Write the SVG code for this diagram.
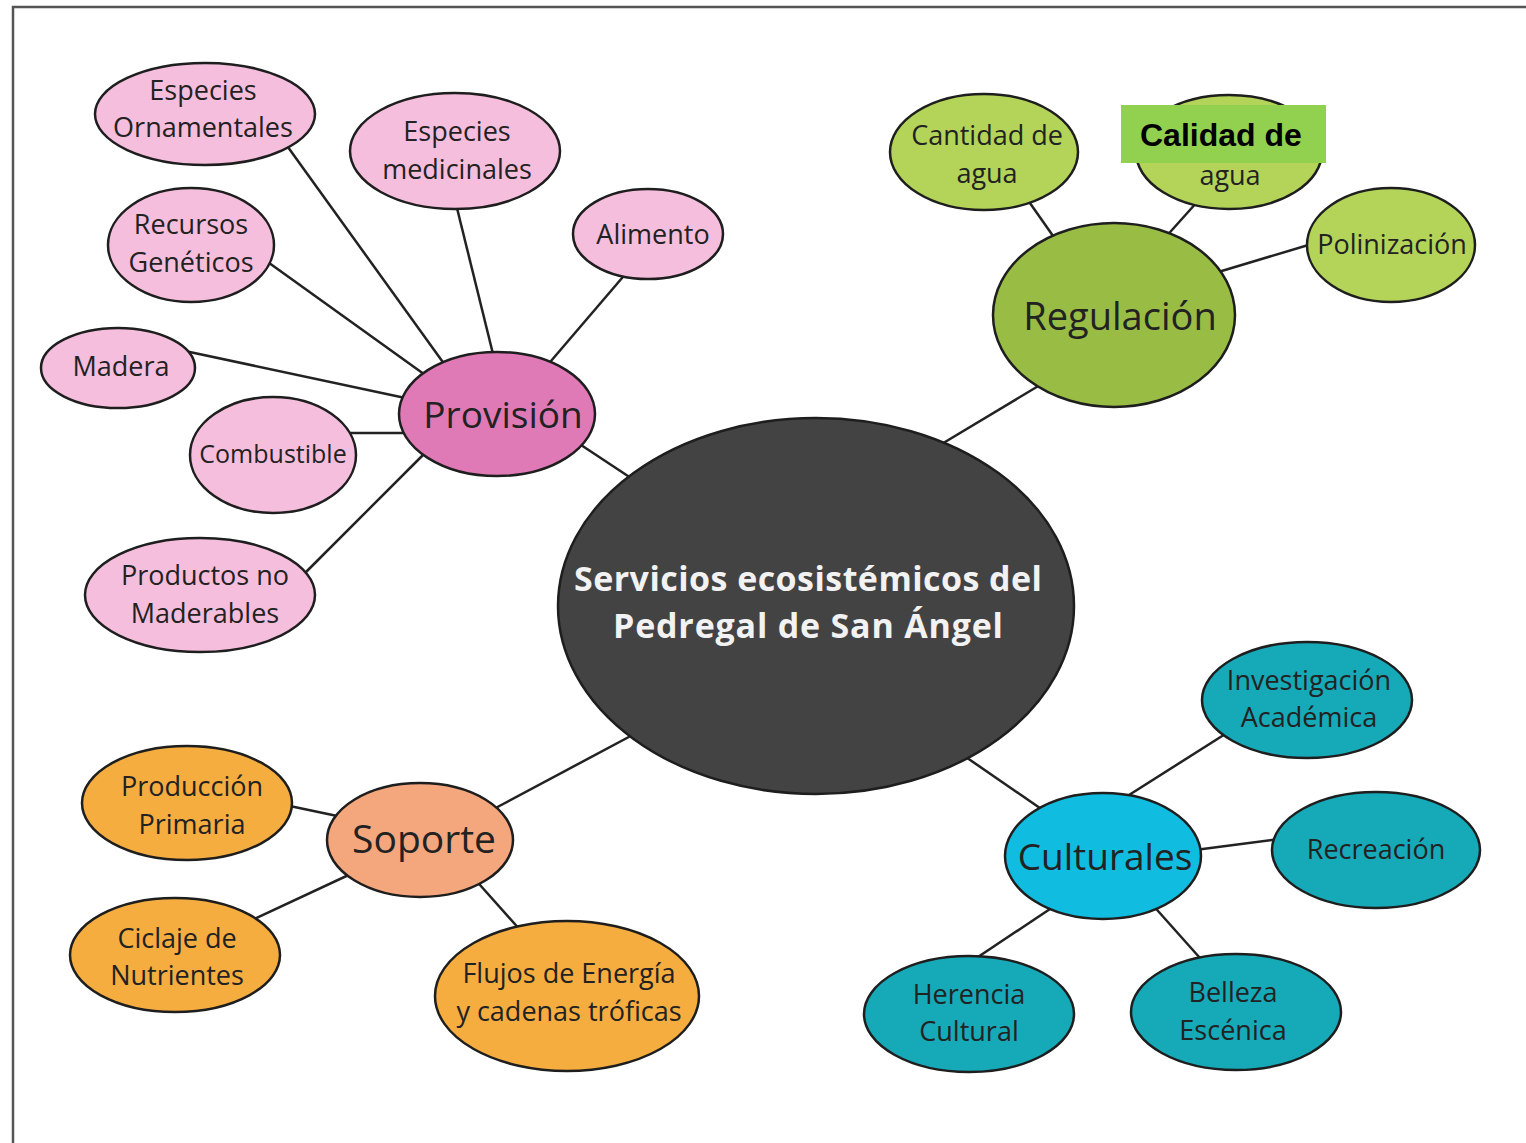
<svg xmlns="http://www.w3.org/2000/svg" width="1526" height="1143" viewBox="0 0 1526 1143">
<style>
.e{stroke:#1e1e1e;stroke-width:2.5}
.t{font-family:"Open Sans","Noto Sans",sans-serif;fill:#222;text-anchor:middle}
.s{font-size:27px}
.b{font-size:37px}
.pk{fill:#f6bedd}.pm{fill:#e07ab7}
.gl{fill:#b3d459}.gm{fill:#99bd44}
.ol{fill:#f5ad40}.om{fill:#f4a67c}
.cl{fill:#16a9b8}.cm{fill:#10bde0}
.c line{stroke:#222;stroke-width:2.5}
</style>
<rect width="1526" height="1143" fill="#fff"/>
<path d="M13 1143 V7 H1526" fill="none" stroke="#555" stroke-width="2.5"/>
<g class="c" id="connectors">
<line x1="575" y1="441" x2="640" y2="484"/>
<line x1="935" y1="448" x2="1045" y2="382"/>
<line x1="490" y1="811" x2="640" y2="731"/>
<line x1="960" y1="753" x2="1050" y2="815"/>
<line x1="285" y1="143" x2="450" y2="372"/>
<line x1="455" y1="200" x2="495" y2="362"/>
<line x1="265" y1="260" x2="428" y2="377"/>
<line x1="628" y1="271" x2="545" y2="368"/>
<line x1="185" y1="351" x2="410" y2="399"/>
<line x1="350" y1="433" x2="410" y2="433"/>
<line x1="300" y1="578" x2="430" y2="448"/>
<line x1="1025" y1="196" x2="1058" y2="243"/>
<line x1="1198" y1="201" x2="1163" y2="240"/>
<line x1="1315" y1="243" x2="1215" y2="273"/>
<line x1="285" y1="805" x2="342" y2="817"/>
<line x1="250" y1="921" x2="355" y2="872"/>
<line x1="472" y1="876" x2="522" y2="932"/>
<line x1="1230" y1="731" x2="1118" y2="802"/>
<line x1="1280" y1="839" x2="1195" y2="850"/>
<line x1="972" y1="961" x2="1056" y2="905"/>
<line x1="1150" y1="902" x2="1208" y2="967"/>
</g>
<g id="central">
<ellipse class="e" cx="816" cy="606" rx="258" ry="188" fill="#434343"/>
<text class="t" x="808" y="591" style="font-size:34px;font-weight:bold;fill:#f2f2f2" textLength="468">Servicios ecosistémicos del</text>
<text class="t" x="808" y="638" style="font-size:34px;font-weight:bold;fill:#f2f2f2" textLength="390">Pedregal de San Ángel</text>
</g>
<g id="provision"><ellipse class="e pm" cx="497" cy="414" rx="98" ry="62"/><text class="t b" x="503" y="428">Provisión</text></g>
<g id="ornamentales"><ellipse class="e pk" cx="205" cy="114" rx="110" ry="51"/><text class="t s" x="203" y="100">Especies</text><text class="t s" x="203" y="137">Ornamentales</text></g>
<g id="medicinales"><ellipse class="e pk" cx="455" cy="151" rx="105" ry="58"/><text class="t s" x="457" y="141">Especies</text><text class="t s" x="457" y="179">medicinales</text></g>
<g id="recursos"><ellipse class="e pk" cx="191" cy="245" rx="83" ry="57"/><text class="t s" x="191" y="234">Recursos</text><text class="t s" x="191" y="272">Genéticos</text></g>
<g id="alimento"><ellipse class="e pk" cx="648" cy="234" rx="75" ry="45"/><text class="t s" x="653" y="244">Alimento</text></g>
<g id="madera"><ellipse class="e pk" cx="118" cy="368" rx="77" ry="40"/><text class="t s" x="121" y="376">Madera</text></g>
<g id="combustible"><ellipse class="e pk" cx="273" cy="455" rx="83" ry="58"/><text class="t" x="273" y="463" style="font-size:25px">Combustible</text></g>
<g id="productos"><ellipse class="e pk" cx="200" cy="595" rx="115" ry="57"/><text class="t s" x="205" y="585">Productos no</text><text class="t s" x="205" y="623">Maderables</text></g>
<g id="regulacion"><ellipse class="e gm" cx="1114" cy="315" rx="121" ry="92"/><text class="t" x="1120" y="330" style="font-size:38px">Regulación</text></g>
<g id="cantidad"><ellipse class="e gl" cx="984" cy="152" rx="94" ry="58"/><text class="t s" x="987" y="145">Cantidad de</text><text class="t s" x="987" y="183">agua</text></g>
<g id="calidad"><ellipse class="e gl" cx="1229" cy="152" rx="93" ry="57"/><text class="t s" x="1230" y="185">agua</text>
<rect x="1121" y="105" width="205" height="58" fill="#92d050"/><text x="1140" y="146" style="font-family:'Liberation Sans',Arial,sans-serif;font-weight:bold;font-size:32px;fill:#000">Calidad de</text></g>
<g id="polinizacion"><ellipse class="e gl" cx="1391" cy="245" rx="84" ry="57"/><text class="t s" x="1392" y="254">Polinización</text></g>
<g id="soporte"><ellipse class="e om" cx="420" cy="840" rx="93" ry="57"/><text class="t" x="424" y="853" style="font-size:39px">Soporte</text></g>
<g id="produccion"><ellipse class="e ol" cx="187" cy="803" rx="105" ry="57"/><text class="t s" x="192" y="796">Producción</text><text class="t s" x="192" y="834">Primaria</text></g>
<g id="ciclaje"><ellipse class="e ol" cx="175" cy="955" rx="105" ry="57"/><text class="t s" x="177" y="948">Ciclaje de</text><text class="t s" x="177" y="985">Nutrientes</text></g>
<g id="flujos"><ellipse class="e ol" cx="567" cy="996" rx="132" ry="75"/><text class="t s" x="569" y="983">Flujos de Energía</text><text class="t s" x="569" y="1021">y cadenas tróficas</text></g>
<g id="culturales"><ellipse class="e cm" cx="1103" cy="856" rx="98" ry="63"/><text class="t b" x="1105" y="870">Culturales</text></g>
<g id="investigacion"><ellipse class="e cl" cx="1307" cy="700" rx="105" ry="58"/><text class="t s" x="1309" y="690">Investigación</text><text class="t s" x="1309" y="727">Académica</text></g>
<g id="recreacion"><ellipse class="e cl" cx="1376" cy="850" rx="104" ry="58"/><text class="t s" x="1376" y="859">Recreación</text></g>
<g id="herencia"><ellipse class="e cl" cx="969" cy="1014" rx="105" ry="58"/><text class="t s" x="969" y="1004">Herencia</text><text class="t s" x="969" y="1041">Cultural</text></g>
<g id="belleza"><ellipse class="e cl" cx="1236" cy="1012" rx="105" ry="58"/><text class="t s" x="1233" y="1002">Belleza</text><text class="t s" x="1233" y="1040">Escénica</text></g>
</svg>
